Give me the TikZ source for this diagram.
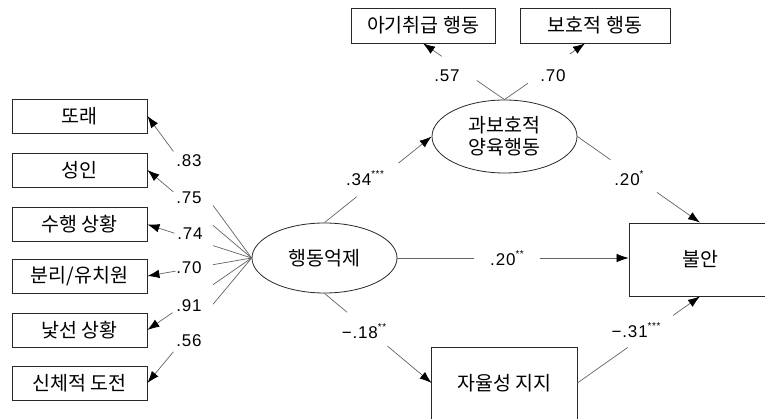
\documentclass[tikz,border=0pt]{standalone}
\usepackage{fontspec}
\setmainfont{Liberation Sans}
\newfontfamily\kr{Noto Sans CJK KR}
\newfontfamily\numfont[LetterSpace=5]{Liberation Sans}
\usetikzlibrary{arrows.meta,calc,shapes.geometric}
\definecolor{lncol}{RGB}{100,100,100}
\definecolor{bdcol}{RGB}{40,40,40}
\newcommand{\mns}{\char"2212}
\newcommand{\stars}[1]{\raisebox{8.5pt}{\fontsize{10}{10}\selectfont #1}}
\begin{document}
\begin{tikzpicture}[x=1pt,y=-1pt,
  obs/.style={draw=bdcol, line width=0.8pt, rectangle, inner sep=0pt,
    font=\kr\fontsize{19.5}{22}\selectfont},
  lat/.style={draw=bdcol, line width=0.8pt, ellipse, inner sep=0pt, align=center,
    font=\kr\fontsize{19.5}{22}\selectfont},
  ln/.style={draw=lncol, line width=0.7pt},
  arr/.style={ln, -{Latex[length=12pt,width=8.5pt,color=black]}},
  lbl/.style={font=\numfont\fontsize{17}{19}\selectfont, inner sep=0pt}
]
\useasboundingbox[fill=white] (0,0) rectangle (765,419);

% indicators of 행동억제
\node[obs, minimum width=135pt, minimum height=34pt] (b1) at (79.5,116) {또래};
\node[obs, minimum width=135pt, minimum height=34pt] (b2) at (79.5,170) {성인};
\node[obs, minimum width=135pt, minimum height=34pt] (b3) at (79.5,224.5) {수행 상황};
\node[obs, minimum width=135pt, minimum height=34pt] (b4) at (79.5,276) {분리/유치원};
\node[obs, minimum width=135pt, minimum height=34pt] (b5) at (79.5,330) {낯선 상황};
\node[obs, minimum width=135pt, minimum height=34pt] (b6) at (79.5,383) {신체적 도전};

% indicators of 과보호적 양육행동
\node[obs, minimum width=144pt, minimum height=35pt] (b7) at (423,25.5) {아기취급 행동};
\node[obs, minimum width=150pt, minimum height=35pt] (b8) at (595,25.5) {보호적 행동};

% latent variables
\node[lat, minimum width=145pt, minimum height=70pt] (bi) at (324.5,258) {행동억제};
\node[lat, minimum width=145pt, minimum height=73pt] (op) at (504.5,136.5) {과보호적\\양육행동};

% outcome and mediator
\node[obs, minimum width=142pt, minimum height=73pt] (anx) at (700,259.5) {불안};
\node[obs, draw=none, minimum width=145pt, minimum height=70pt] (aut) at (504.5,383) {자율성 지지};
\draw[draw=bdcol, line width=0.8pt] ($(aut.south west)+(0,12)$) -- (aut.north west) -- (aut.north east) -- ($(aut.south east)+(0,12)$);

% loadings of 행동억제
\draw[ln] (bi.west) -- ($(bi.west)!0.37!(b1.east)$);
\draw[arr] ($(bi.west)!0.75!(b1.east)$) -- (b1.east);
\node[lbl] (l1) at (189,161) {.83};
\draw[ln] (bi.west) -- ($(bi.west)!0.37!(b2.east)$);
\draw[arr] ($(bi.west)!0.75!(b2.east)$) -- (b2.east);
\node[lbl] (l2) at (189,198) {.75};
\draw[ln] (bi.west) -- ($(bi.west)!0.37!(b3.east)$);
\draw[arr] ($(bi.west)!0.74!(b3.east)$) -- (b3.east);
\node[lbl] (l3) at (190,234) {.74};
\draw[ln] (bi.west) -- ($(bi.west)!0.37!(b4.east)$);
\draw[arr] ($(bi.west)!0.73!(b4.east)$) -- (b4.east);
\node[lbl] (l4) at (189,268) {.70};
\draw[ln] (bi.west) -- ($(bi.west)!0.37!(b5.east)$);
\draw[arr] ($(bi.west)!0.76!(b5.east)$) -- (b5.east);
\node[lbl] (l5) at (189,306) {.91};
\draw[ln] (bi.west) -- ($(bi.west)!0.37!(b6.east)$);
\draw[arr] ($(bi.west)!0.75!(b6.east)$) -- (b6.east);
\node[lbl] (l6) at (189,341) {.56};

% loadings of 과보호적 양육행동
\coordinate (t8) at ($(b8.south)+(-10,0)$);
\draw[ln] (op.north) -- ($(op.north)!0.34!(b7.south)$);
\draw[arr] ($(op.north)!0.77!(b7.south)$) -- (b7.south);
\node[lbl] (l7) at (447,76) {.57};
\draw[ln] (op.north) -- ($(op.north)!0.29!(t8)$);
\draw[arr] ($(op.north)!0.81!(t8)$) -- (t8);
\node[lbl] (l8) at (553,76) {.70};

% structural paths
\draw[ln] (bi.north) -- ($(bi.north)!0.30!(op.west)$);
\draw[arr] ($(bi.north)!0.69!(op.west)$) -- (op.west);
\node[lbl] (p1) at (365,178) {.34\stars{***}};

\coordinate (ta) at (bi.east -| anx.west);
\draw[ln] (bi.east) -- ($(bi.east)!0.33!(ta)$);
\draw[arr] ($(bi.east)!0.615!(ta)$) -- (ta);
\node[lbl] (p2) at (507,258) {.20\stars{**}};

\draw[ln] (op.east) -- ($(op.east)!0.27!(anx.north)$);
\draw[arr] ($(op.east)!0.65!(anx.north)$) -- (anx.north);
\node[lbl] (p3) at (629,178) {.20\stars{*}};

\draw[ln] (bi.south) -- ($(bi.south)!0.21!(aut.west)$);
\draw[arr] ($(bi.south)!0.59!(aut.west)$) -- (aut.west);
\node[lbl] (p4) at (364,331) {\mns.18\stars{**}};

\draw[ln] (aut.east) -- ($(aut.east)!0.41!(anx.south)$);
\draw[arr] ($(aut.east)!0.78!(anx.south)$) -- (anx.south);
\node[lbl] (p5) at (636,330) {\mns.31\stars{***}};
\end{tikzpicture}
\end{document}
